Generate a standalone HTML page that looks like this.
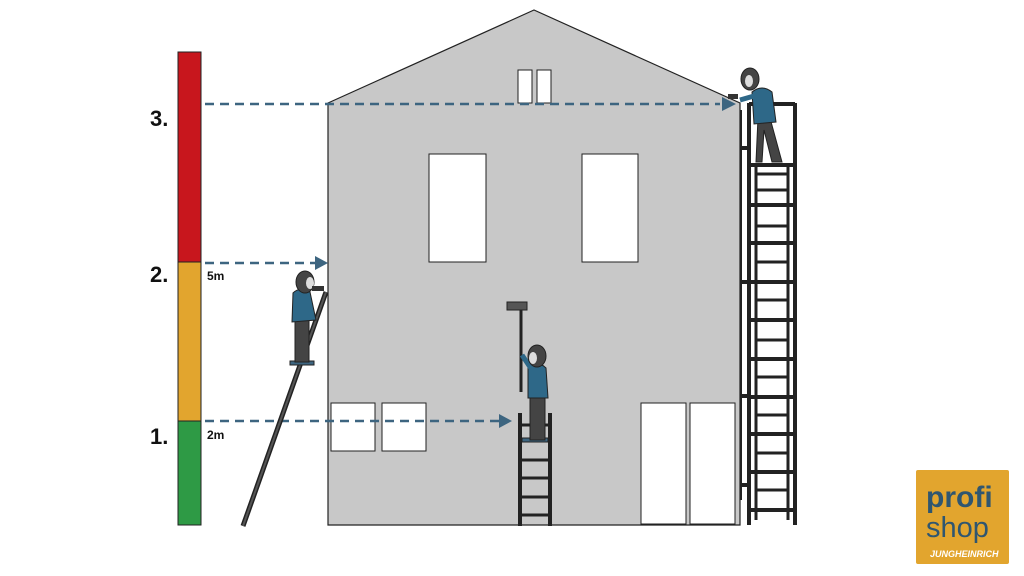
<!DOCTYPE html>
<html><head><meta charset="utf-8"><style>
html,body{margin:0;padding:0;background:#fff;}
svg{display:block;}
</style></head><body>
<svg width="1024" height="576" viewBox="0 0 1024 576" xmlns="http://www.w3.org/2000/svg" font-family="Liberation Sans, sans-serif">
<!-- height bar -->
<rect x="178" y="52" width="23" height="210" fill="#c8161d" stroke="#222" stroke-width="1"/>
<rect x="178" y="262" width="23" height="159" fill="#e2a52e" stroke="#222" stroke-width="1"/>
<rect x="178" y="421" width="23" height="104" fill="#2e9a45" stroke="#222" stroke-width="1"/>
<text x="150" y="126" font-size="22" font-weight="bold" fill="#111">3.</text>
<text x="150" y="282" font-size="22" font-weight="bold" fill="#111">2.</text>
<text x="150" y="444" font-size="22" font-weight="bold" fill="#111">1.</text>
<text x="207" y="280" font-size="12" font-weight="bold" fill="#111">5m</text>
<text x="207" y="439" font-size="12" font-weight="bold" fill="#111">2m</text>
<!-- building -->
<polygon points="328,103 534,10 740,103 740,525 328,525" fill="#c8c8c8" stroke="#222" stroke-width="1.2"/>
<rect x="518" y="70" width="14" height="33" fill="#fff" stroke="#222"/>
<rect x="537" y="70" width="14" height="33" fill="#fff" stroke="#222"/>
<rect x="429" y="154" width="57" height="108" fill="#fff" stroke="#222"/>
<rect x="582" y="154" width="56" height="108" fill="#fff" stroke="#222"/>
<rect x="331" y="403" width="44" height="48" fill="#fff" stroke="#222"/>
<rect x="382" y="403" width="44" height="48" fill="#fff" stroke="#222"/>
<rect x="641" y="403" width="45" height="121" fill="#fff" stroke="#222"/>
<rect x="690" y="403" width="45" height="121" fill="#fff" stroke="#222"/>
<!-- arrows -->
<g stroke="#3d6580" stroke-width="2.5" stroke-dasharray="9,6" fill="none">
<line x1="205" y1="104" x2="720" y2="104"/>
<line x1="205" y1="263" x2="315" y2="263"/>
<line x1="205" y1="421" x2="500" y2="421"/>
</g>
<g fill="#3d6580">
<polygon points="736,104 722,97 722,111"/>
<polygon points="328,263 315,256 315,270"/>
<polygon points="512,421 499,414 499,428"/>
</g>
<!-- left ladder -->
<line x1="243" y1="526" x2="326" y2="292" stroke="#222" stroke-width="5"/>
<line x1="243" y1="526" x2="326" y2="292" stroke="#555" stroke-width="2"/>
<!-- left person -->
<g>
<rect x="290" y="361" width="24" height="4" fill="#3d6580" stroke="#222"/>
<path d="M295 318 L309 318 L309 362 L295 362 Z" fill="#444" stroke="#222"/>
<path d="M293 293 Q300 286 310 292 L316 320 L292 322 Z" fill="#2e6888" stroke="#222"/>
<ellipse cx="305" cy="282" rx="9" ry="11" fill="#444" stroke="#222"/>
<ellipse cx="310" cy="283" rx="4" ry="6" fill="#ddd"/>
<rect x="312" y="286" width="12" height="5" fill="#333"/>
</g>
<!-- middle ladder -->
<g stroke="#222" stroke-width="4">
<line x1="520" y1="413" x2="520" y2="526"/>
<line x1="550" y1="413" x2="550" y2="526"/>
<line x1="520" y1="425" x2="550" y2="425" stroke-width="3"/>
<line x1="520" y1="460" x2="550" y2="460" stroke-width="3"/>
<line x1="520" y1="478" x2="550" y2="478" stroke-width="3"/>
<line x1="520" y1="497" x2="550" y2="497" stroke-width="3"/>
<line x1="520" y1="515" x2="550" y2="515" stroke-width="3"/>
</g>
<rect x="522" y="438" width="26" height="4" fill="#3d6580" stroke="#222"/>
<!-- middle person -->
<rect x="507" y="302" width="20" height="8" fill="#555" stroke="#222"/>
<line x1="521" y1="310" x2="521" y2="392" stroke="#222" stroke-width="3"/>
<path d="M530 395 L545 395 L545 440 L530 440 Z" fill="#444" stroke="#222"/>
<path d="M528 366 Q538 360 546 368 L548 398 L528 398 Z" fill="#2e6888" stroke="#222"/>
<path d="M522 355 L532 370" stroke="#2e6888" stroke-width="5"/>
<ellipse cx="537" cy="356" rx="9" ry="11" fill="#444" stroke="#222"/>
<ellipse cx="533" cy="358" rx="4" ry="6" fill="#ddd"/>
<!-- scaffold -->
<g stroke="#222" fill="none">
<line x1="741" y1="110" x2="741" y2="500" stroke-width="2"/>
<line x1="741" y1="148" x2="750" y2="148" stroke-width="4"/>
<line x1="741" y1="282" x2="750" y2="282" stroke-width="4"/>
<line x1="741" y1="396" x2="750" y2="396" stroke-width="4"/>
<line x1="741" y1="485" x2="750" y2="485" stroke-width="4"/>
<line x1="749" y1="103" x2="749" y2="525" stroke-width="4"/>
<line x1="795" y1="103" x2="795" y2="525" stroke-width="4"/>
<line x1="749" y1="104" x2="795" y2="104" stroke-width="4"/>
<line x1="756" y1="165" x2="756" y2="520" stroke-width="3"/>
<line x1="788" y1="165" x2="788" y2="520" stroke-width="3"/>
<g stroke-width="4">
<line x1="749" y1="165" x2="795" y2="165"/><line x1="749" y1="205" x2="795" y2="205"/>
<line x1="749" y1="243" x2="795" y2="243"/><line x1="749" y1="282" x2="795" y2="282"/>
<line x1="749" y1="320" x2="795" y2="320"/><line x1="749" y1="359" x2="795" y2="359"/>
<line x1="749" y1="397" x2="795" y2="397"/><line x1="749" y1="434" x2="795" y2="434"/>
<line x1="749" y1="472" x2="795" y2="472"/><line x1="749" y1="510" x2="795" y2="510"/>
</g>
<g stroke-width="3">
<line x1="756" y1="174" x2="788" y2="174"/><line x1="756" y1="190" x2="788" y2="190"/>
<line x1="756" y1="226" x2="788" y2="226"/><line x1="756" y1="262" x2="788" y2="262"/>
<line x1="756" y1="300" x2="788" y2="300"/><line x1="756" y1="340" x2="788" y2="340"/>
<line x1="756" y1="377" x2="788" y2="377"/><line x1="756" y1="415" x2="788" y2="415"/>
<line x1="756" y1="453" x2="788" y2="453"/><line x1="756" y1="490" x2="788" y2="490"/>
</g>
</g>
<!-- top person -->
<path d="M758 118 L770 118 L782 162 L772 162 L764 130 L762 162 L756 162 Z" fill="#444" stroke="#222"/>
<path d="M752 92 Q762 84 772 92 L776 122 L754 124 Z" fill="#2e6888" stroke="#222"/>
<path d="M754 96 L740 100" stroke="#2e6888" stroke-width="5"/>
<ellipse cx="750" cy="79" rx="9" ry="11" fill="#444" stroke="#222"/>
<ellipse cx="749" cy="81" rx="4" ry="6" fill="#ddd"/>
<rect x="728" y="94" width="10" height="5" fill="#333"/>
<!-- logo -->
<rect x="916" y="470" width="93" height="94" rx="2" fill="#e2a52e"/>
<text x="926" y="507" font-size="30" font-weight="bold" fill="#2f5670">profi</text>
<text x="926" y="537" font-size="29" fill="#2f5670">shop</text>
<text x="930" y="557" font-size="9" font-weight="bold" font-style="italic" fill="#fff">JUNGHEINRICH</text>
</svg>
</body></html>
